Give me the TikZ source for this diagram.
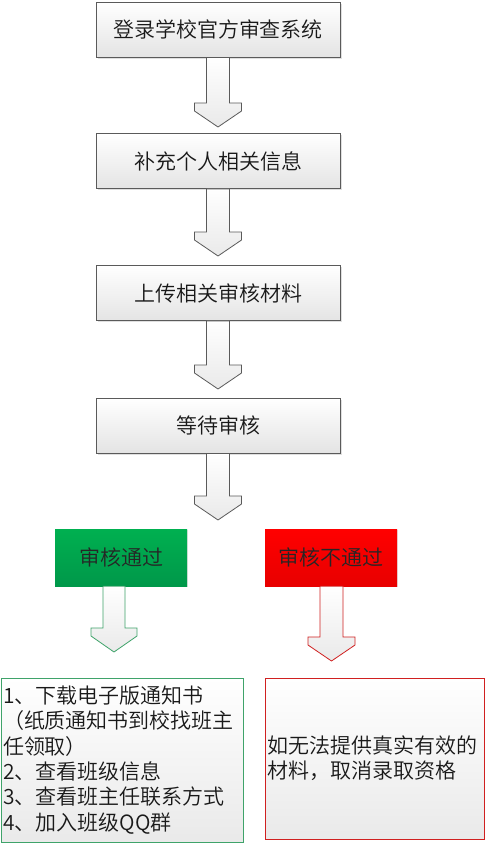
\documentclass[tikz,border=0pt]{standalone}
\usepackage{fontspec}
\setmainfont{Noto Sans CJK SC}[UprightFont=* DemiLight]
\usetikzlibrary{calc,shadows}
\definecolor{boxline}{HTML}{5A5A5A}
\definecolor{boxbot}{HTML}{E4E4E4}
\definecolor{gtop}{HTML}{00B050}
\definecolor{gbot}{HTML}{00984A}
\definecolor{rtop}{HTML}{FF0000}
\definecolor{rbot}{HTML}{E80000}
\definecolor{gline}{HTML}{3FA36A}
\definecolor{rline}{HTML}{D02020}
\newcommand{\blockarr}[5]{\path[#1] let \p1=(#2), \p2=(#3) in
 (\x2-#4,\y1) -- (\x2-#4,\y2+24pt) -- (\x2-#5,\y2+24pt) -- (\x2-#5,\y2+16pt) -- (\x2,\y2)
 -- (\x2+#5,\y2+16pt) -- (\x2+#5,\y2+24pt) -- (\x2+#4,\y2+24pt) -- (\x2+#4,\y1) -- cycle;}
\tikzset{
  txt/.style={font=\fontsize{21}{25.3}\selectfont},
  stepbox/.style={txt, draw=boxline, line width=0.8pt, top color=white, bottom color=boxbot,
    minimum width=244pt, minimum height=55pt, inner sep=0pt, text=black!90,
    drop shadow={shadow xshift=1.5pt, shadow yshift=-1.5pt, opacity=0.25, fill=gray}},
  passbox/.style={txt, top color=gtop, bottom color=gbot, minimum width=132pt, minimum height=57pt,
    inner sep=0pt, text=black!85,
    drop shadow={shadow xshift=1pt, shadow yshift=-1pt, opacity=0.2, fill=gray}},
  failbox/.style={txt, top color=rtop, bottom color=rbot, minimum width=132pt, minimum height=57pt,
    inner sep=0pt, text=black!85,
    drop shadow={shadow xshift=1pt, shadow yshift=-1pt, opacity=0.2, fill=gray}},
  resbox/.style={txt, top color=white, bottom color=boxbot!80, line width=0.8pt, align=left,
    inner sep=2pt, text=black!90},
  grayarr/.style={draw=boxline, line width=0.8pt, top color=white, bottom color=boxbot!80},
  greenarr/.style={draw=gline, line width=0.8pt, top color=white, bottom color=boxbot!80},
  redarr/.style={draw=rline, line width=0.8pt, top color=white, bottom color=boxbot!80},
}
\begin{document}
\begin{tikzpicture}[x=1pt,y=-1pt]
\useasboundingbox[fill=white] (0,0) rectangle (487,844);
\node[stepbox] (b1) at (218,29.5) {登录学校官方审查系统};
\node[stepbox] (b2) at (218,161) {补充个人相关信息};
\node[stepbox] (b3) at (218,293) {上传相关审核材料};
\node[stepbox] (b4) at (218,425.5) {等待审核};
\node[passbox] (g) at (121,557.5) {审核通过};
\node[failbox] (r) at (331,557.5) {审核不通过};
\node[resbox, draw=gline, minimum width=242pt, minimum height=164pt, text width=238pt] (gb) at (122,760)
  {1、下载电子版通知书\\（纸质通知书到校找班主\\任领取）\\2、查看班级信息\\3、查看班主任联系方式\\4、加入班级QQ群};
\node[resbox, draw=rline, minimum width=219pt, minimum height=161pt, text width=215pt] (rb) at (374.5,758.5)
  {如无法提供真实有效的\\材料，取消录取资格};
\coordinate (t1) at (218,127);
\coordinate (t2) at (218,256);
\coordinate (t3) at (218,389);
\coordinate (t4) at (218,520);
\coordinate (tg) at (114,652);
\coordinate (tr) at (331.5,661);
\blockarr{grayarr}{b1.south}{t1}{11.5pt}{23.5pt}
\blockarr{grayarr}{b2.south}{t2}{11.5pt}{23.5pt}
\blockarr{grayarr}{b3.south}{t3}{11.5pt}{23.5pt}
\blockarr{grayarr}{b4.south}{t4}{11.5pt}{23.5pt}
\blockarr{greenarr}{g.south}{tg}{11pt}{23pt}
\blockarr{redarr}{r.south}{tr}{11.5pt}{23.5pt}
\end{tikzpicture}
\end{document}
